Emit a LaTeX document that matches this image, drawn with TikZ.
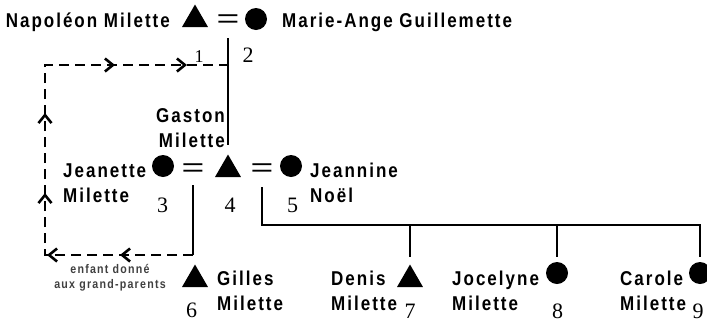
\documentclass[tikz,border=0pt]{standalone}
\usepackage{fontspec}
\setmainfont{Liberation Sans}
\newfontfamily\namefont{Liberation Sans}[FakeStretch=0.85,LetterSpace=10]
\newfontfamily\numfont{Liberation Serif}
\usetikzlibrary{shapes.geometric,decorations.markings,arrows.meta}
\newcommand{\pname}[3][l]{\begin{tabular}[t]{@{}#1@{}}#2\\#3\end{tabular}}
\newcommand{\barb}{\pgfsetdash{}{0pt}\arrow{>}}
\begin{document}
\begin{tikzpicture}[x=1pt, y=-1pt,
male/.style={regular polygon, regular polygon sides=3, fill=black, inner sep=0pt, minimum size=30pt},
female/.style={circle, fill=black, inner sep=0pt, minimum size=22pt},
wed/.style={font=\fontsize{26}{26}\selectfont, inner sep=0pt},
who/.style={font=\namefont\bfseries\fontsize{20}{25}\selectfont, inner sep=0pt},
remark/.style={font=\namefont\bfseries\fontsize{12.5}{15}\selectfont, text=black!75, inner sep=0pt},
num/.style={font=\numfont\fontsize{22}{22}\selectfont, inner sep=0pt, anchor=base},
link/.style={line width=1.6pt},
given/.style={line width=1.5pt, dash pattern=on 10pt off 6pt, postaction=decorate,
  >={Straight Barb[length=8pt,width=13pt,line width=2.6pt]},
  decoration={markings,
    mark=at position 73pt with {\barb},
    mark=at position 146pt with {\barb},
    mark=at position 210pt with {\barb},
    mark=at position 290pt with {\barb},
    mark=at position 408pt with {\barb},
    mark=at position 480pt with {\barb}}}]
\useasboundingbox (0,0) rectangle (707,322);

\node[male] (napoleon) at (195,19.5) {};
\node[wed] (w1) at (228,21) {\scalebox{1.5}[1]{=}};
\node[female] (marie) at (256,19) {};
\node[who, anchor=base east] (napoleon-name) at (170,27) {Napoléon Milette};
\node[who, anchor=base west] (marie-name) at (282,27) {Marie-Ange Guillemette};
\node[num] (n2) at (248,62) {2};

\node[female] (jeanette) at (163,166) {};
\node[wed] (w2) at (193,170) {\scalebox{1.5}[1]{=}};
\node[male] (gaston) at (228,169.5) {};
\node[wed] (w3) at (262,170) {\scalebox{1.5}[1]{=}};
\node[female] (jeannine) at (291,166) {};
\node[who, anchor=base east] (gaston-name) at (225,122) {\pname[r]{Gaston}{Milette}};
\node[who, anchor=base west] (jeanette-name) at (63,177) {\pname{Jeanette}{Milette}};
\node[who, anchor=base west] (jeannine-name) at (310,177) {\pname{Jeannine}{Noël}};
\node[num] (n3) at (162.5,212) {3};
\node[num] (n4) at (230,212) {4};
\node[num] (n5) at (292.5,212) {5};

\node[male] (gilles) at (195,279.5) {};
\node[male] (denis) at (410,279.5) {};
\node[female] (jocelyne) at (557,273) {};
\node[female] (carole) at (700,273) {};
\node[who, anchor=base west] (gilles-name) at (217,285) {\pname{Gilles}{Milette}};
\node[who, anchor=base west] (denis-name) at (331,285) {\pname{Denis}{Milette}};
\node[who, anchor=base west] (jocelyne-name) at (452,285) {\pname{Jocelyne}{Milette}};
\node[who, anchor=base west] (carole-name) at (620,285) {\pname{Carole}{Milette}};
\node[num] (n6) at (191.5,317) {6};
\node[num] (n7) at (410,318) {7};
\node[num] (n8) at (557.5,318) {8};
\node[num] (n9) at (698,318) {9};

\node[remark, anchor=base] (gift) at (110,273) {\pname[c]{enfant donné}{aux grand-parents}};

\coordinate (give) at (193,255);
\coordinate (back) at (45,65);
\coordinate (bar) at (262,225);
\draw[link] ([yshift=-17pt]w1.center) -- ([yshift=9.5pt]gaston.north);
\draw[link] ([yshift=-15pt]w2.center) -- (give);
\draw[given] (give) -| (back) -- (back -| w1);
\node[num, font=\numfont\fontsize{18}{18}\selectfont] (n1) at (199,62) {1};
\draw[link] ([yshift=-17pt]w3.center) -- (bar) -| ([yshift=5pt]carole.north);
\draw[link] (bar -| denis) -- ([yshift=7.5pt]denis.north);
\draw[link] (bar -| jocelyne) -- ([yshift=5pt]jocelyne.north);
\end{tikzpicture}
\end{document}
